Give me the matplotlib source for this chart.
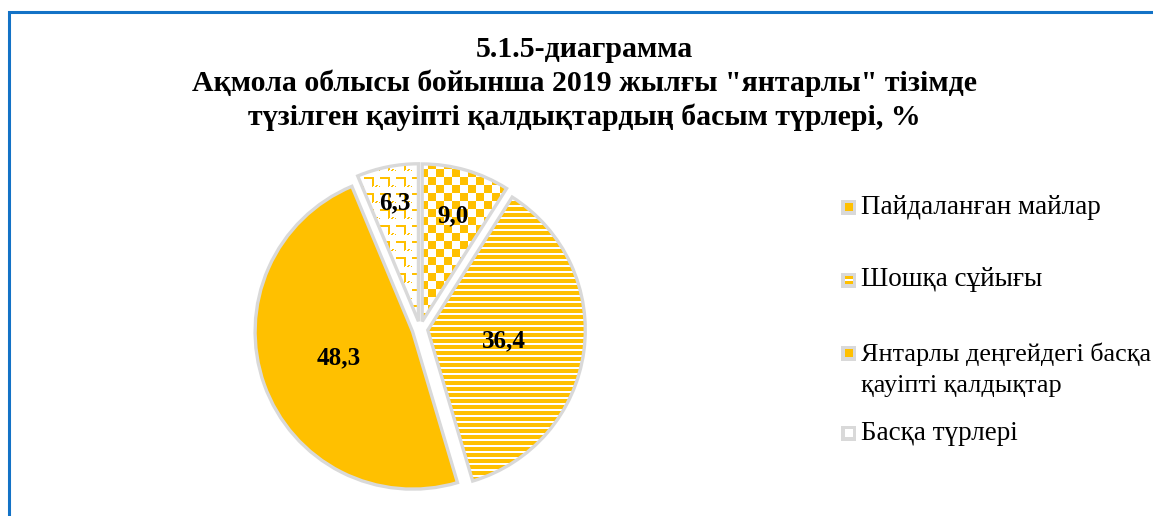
import numpy as np
import matplotlib.pyplot as plt
from matplotlib.patches import Rectangle

plt.rcParams['font.family'] = ['Liberation Serif', 'DejaVu Serif']

# data
labels = ['Пайдаланған майлар', 'Шошқа сұйығы',
          'Янтарлы деңгейдегі басқа\nқауіпті қалдықтар', 'Басқа түрлері']
values = [9.0, 36.4, 48.3, 6.3]
value_text = ['9,0', '36,4', '48,3', '6,3']
fills = ['checker', 'stripes', 'solid', 'weave']

YEL = '#FFC000'
EDGE = '#D9D9D9'

title = ('5.1.5-диаграмма\n'
         'Ақмола облысы бойынша 2019 жылғы "янтарлы" тізімде\n'
         'түзілген қауіпті қалдықтардың басым түрлері, %')


def texture(kind, n=400):
    yy, xx = np.indices((n, n))
    yel = np.array([1.0, 0.753, 0.0])
    img = np.ones((n, n, 3))
    if kind == 'checker':
        mask = ((xx // 8) + (yy // 8)) % 2 == 0
    elif kind == 'stripes':
        mask = (yy % 6) < 4
    elif kind == 'weave':
        a = (xx // 2) % 8
        b = (yy // 2) % 8
        mask = ((b == 0) & (a < 4)) | ((a == 4) & (b < 4)) | ((b == 4) & (a >= 4)) & ((xx + yy) % 4 < 2)
    else:
        mask = np.ones((n, n), bool)
    img[mask] = yel
    return img


fig = plt.figure(figsize=(11.53, 5.16), dpi=100)

# blue frame
fig.patches.append(Rectangle((9 / 1153, -0.1), 1.2, 1 - 12 / 516 + 0.1,
                             transform=fig.transFigure, fill=False,
                             edgecolor='#1372C6', linewidth=2.2))

fig.text(0.507, 1 - 36 / 516, title, ha='center', va='top', fontsize=21.5,
         fontweight='bold', linespacing=1.3)

# pie axes: 400x400 px centred at (420, 329)
ax = fig.add_axes([220 / 1153, (516 - 329 - 200) / 516, 400 / 1153, 400 / 516])
lim = 1.27
wedges, _ = ax.pie(values, startangle=90, counterclock=False,
                   explode=[0.05] * 4, radius=1,
                   wedgeprops=dict(edgecolor=EDGE, linewidth=2.4))
ax.set_xlim(-lim, lim)
ax.set_ylim(-lim, lim)
ax.set_aspect('auto')
ax.axis('off')

label_r = [0.70, 0.49, 0.50, 0.77]
for w, kind, txt, r in zip(wedges, fills, value_text, label_r):
    if kind == 'solid':
        w.set_facecolor(YEL)
    else:
        w.set_facecolor('none')
        im = ax.imshow(texture(kind), extent=(-lim, lim, -lim, lim),
                       interpolation='nearest', zorder=0.5)
        im.set_clip_path(w)
    mid = np.deg2rad((w.theta1 + w.theta2) / 2)
    cx, cy = w.center
    ax.text(cx + r * np.cos(mid), cy + r * np.sin(mid), txt, ha='center',
            va='center', fontsize=18, fontweight='bold', zorder=5)

# legend
leg_y = [207, 280, 353, 433]
for lab, kind, y in zip(labels, fills, leg_y):
    fy = 1 - y / 516
    fig.patches.append(Rectangle((841 / 1153, fy - 7.5 / 516), 15 / 1153, 15 / 516,
                                 transform=fig.transFigure, facecolor=EDGE,
                                 edgecolor='none'))
    inner = 'white' if kind == 'weave' else YEL
    fig.patches.append(Rectangle((845 / 1153, fy - 4 / 516), 8 / 1153, 8 / 516,
                                 transform=fig.transFigure, facecolor=inner,
                                 edgecolor='none'))
    if kind == 'stripes':
        fig.patches.append(Rectangle((845 / 1153, fy - 1 / 516), 8 / 1153, 2 / 516,
                                     transform=fig.transFigure, facecolor='white',
                                     edgecolor='none'))
    if '\n' in lab:
        fig.text(861 / 1153, fy + 11 / 516, lab, ha='left', va='top',
                 fontsize=18.8, linespacing=1.55)
    else:
        fig.text(861 / 1153, fy, lab, ha='left', va='center', fontsize=19.5)

fig.savefig('out.png', dpi=100)
